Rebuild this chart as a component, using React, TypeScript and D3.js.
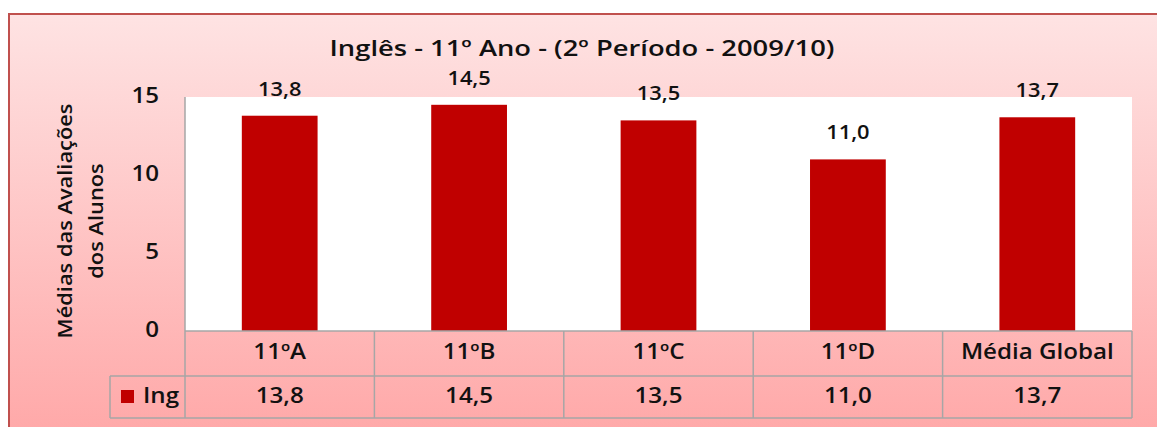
import React from "react";
import * as d3 from "d3";

const width = 1157,
  height = 427;

// dados
const turmas = ["11ºA", "11ºB", "11ºC", "11ºD", "Média Global"];
const medias = [13.8, 14.5, 13.5, 11.0, 13.7];
const yTicks = [0, 5, 10, 15];
const serieNome = "Ing";
const titulo = "Inglês - 11º Ano - (2º Período - 2009/10)";
const eixoY = ["Médias das Avaliações", "dos Alunos"];

const font = "'Open Sans', sans-serif";
const sx = 1.15; // o texto do original está um pouco esticado na horizontal
const fmt = (v: number) => v.toFixed(1).replace(".", ",");

function T({ x, y, size, weight = 600, anchor = "middle", rotate = 0, children }: any) {
  return (
    <text transform={`translate(${x},${y}) rotate(${rotate}) scale(${sx},1)`} textAnchor={anchor}
      dominantBaseline="middle" fontFamily={font} fontSize={size} fontWeight={weight} fill="#111">
      {children}
    </text>
  );
}

export default function App() {
  const plot = { left: 185, right: 1132, top: 97, bottom: 331 };
  const row1 = 376,
    row2 = 418;

  const x = d3.scaleBand<string>().domain(turmas).range([plot.left, plot.right]).padding(0);
  const y = d3.scaleLinear().domain([0, 15]).range([plot.bottom, plot.top]);
  const bw = x.bandwidth() * 0.4;
  const grid = "#a6a6a6";
  const cx = (t: string) => x(t)! + x.bandwidth() / 2;

  const colLines = turmas.map(t => x(t)!).concat([plot.right]);

  return (
    <svg width={width} height={height} style={{ position: "absolute", left: 0, top: 0 }}>
      <defs>
        <linearGradient id="bg" x1="0" y1="0" x2="0" y2="1">
          <stop offset="0" stopColor="#fee3e3" />
          <stop offset="1" stopColor="#ff9d9d" />
        </linearGradient>
      </defs>
      {/* fundo e moldura */}
      <rect x={0} y={0} width={width} height={height} fill="#fff" />
      <rect x={9} y={14} width={1300} height={500} fill="url(#bg)" stroke="#c0504d" strokeWidth={2} />

      {/* título */}
      <text x={582} y={50} textAnchor="middle" dominantBaseline="middle" fontFamily={font}
        fontSize={22} fontWeight={600} fill="#111" textLength={505} lengthAdjust="spacingAndGlyphs">
        {titulo}
      </text>

      {/* título do eixo y (esticado na vertical porque está rodado) */}
      {eixoY.map((l, i) => (
        <T key={l} x={67 + i * 31} y={221} size={19} rotate={-90}>{l}</T>
      ))}

      {/* área do gráfico */}
      <rect x={plot.left} y={plot.top} width={plot.right - plot.left} height={plot.bottom - plot.top} fill="#fff" />
      <line x1={plot.left} x2={plot.left} y1={plot.top} y2={plot.bottom} stroke={grid} strokeWidth={1.5} />

      {yTicks.map(t => (
        <T key={t} x={159} y={y(t)} size={21} anchor="end">{t}</T>
      ))}

      {/* barras */}
      {turmas.map((t, i) => (
        <g key={t}>
          <rect x={x(t)! + (x.bandwidth() - bw) / 2} y={y(medias[i])} width={bw}
            height={plot.bottom - y(medias[i])} fill="#c00000" />
          <T x={cx(t)} y={y(medias[i]) - 25} size={19}>{fmt(medias[i])}</T>
        </g>
      ))}

      {/* tabela de dados */}
      <g stroke={grid} strokeWidth={1.5}>
        <line x1={plot.left} x2={plot.right} y1={plot.bottom} y2={plot.bottom} />
        <line x1={110} x2={plot.right} y1={row1} y2={row1} />
        <line x1={110} x2={plot.right} y1={row2} y2={row2} />
        <line x1={110} x2={110} y1={row1} y2={row2} />
        {colLines.map((lx, i) => (
          <line key={i} x1={lx} x2={lx} y1={plot.bottom} y2={row2} />
        ))}
      </g>
      {turmas.map((t, i) => (
        <g key={t}>
          <T x={cx(t)} y={(plot.bottom + row1) / 2} size={21}>{t}</T>
          <T x={cx(t)} y={(row1 + row2) / 2} size={21}>{fmt(medias[i])}</T>
        </g>
      ))}
      <rect x={121} y={390} width={13} height={13} fill="#c00000" />
      <T x={143} y={397} size={21} anchor="start">{serieNome}</T>
    </svg>
  );
}
